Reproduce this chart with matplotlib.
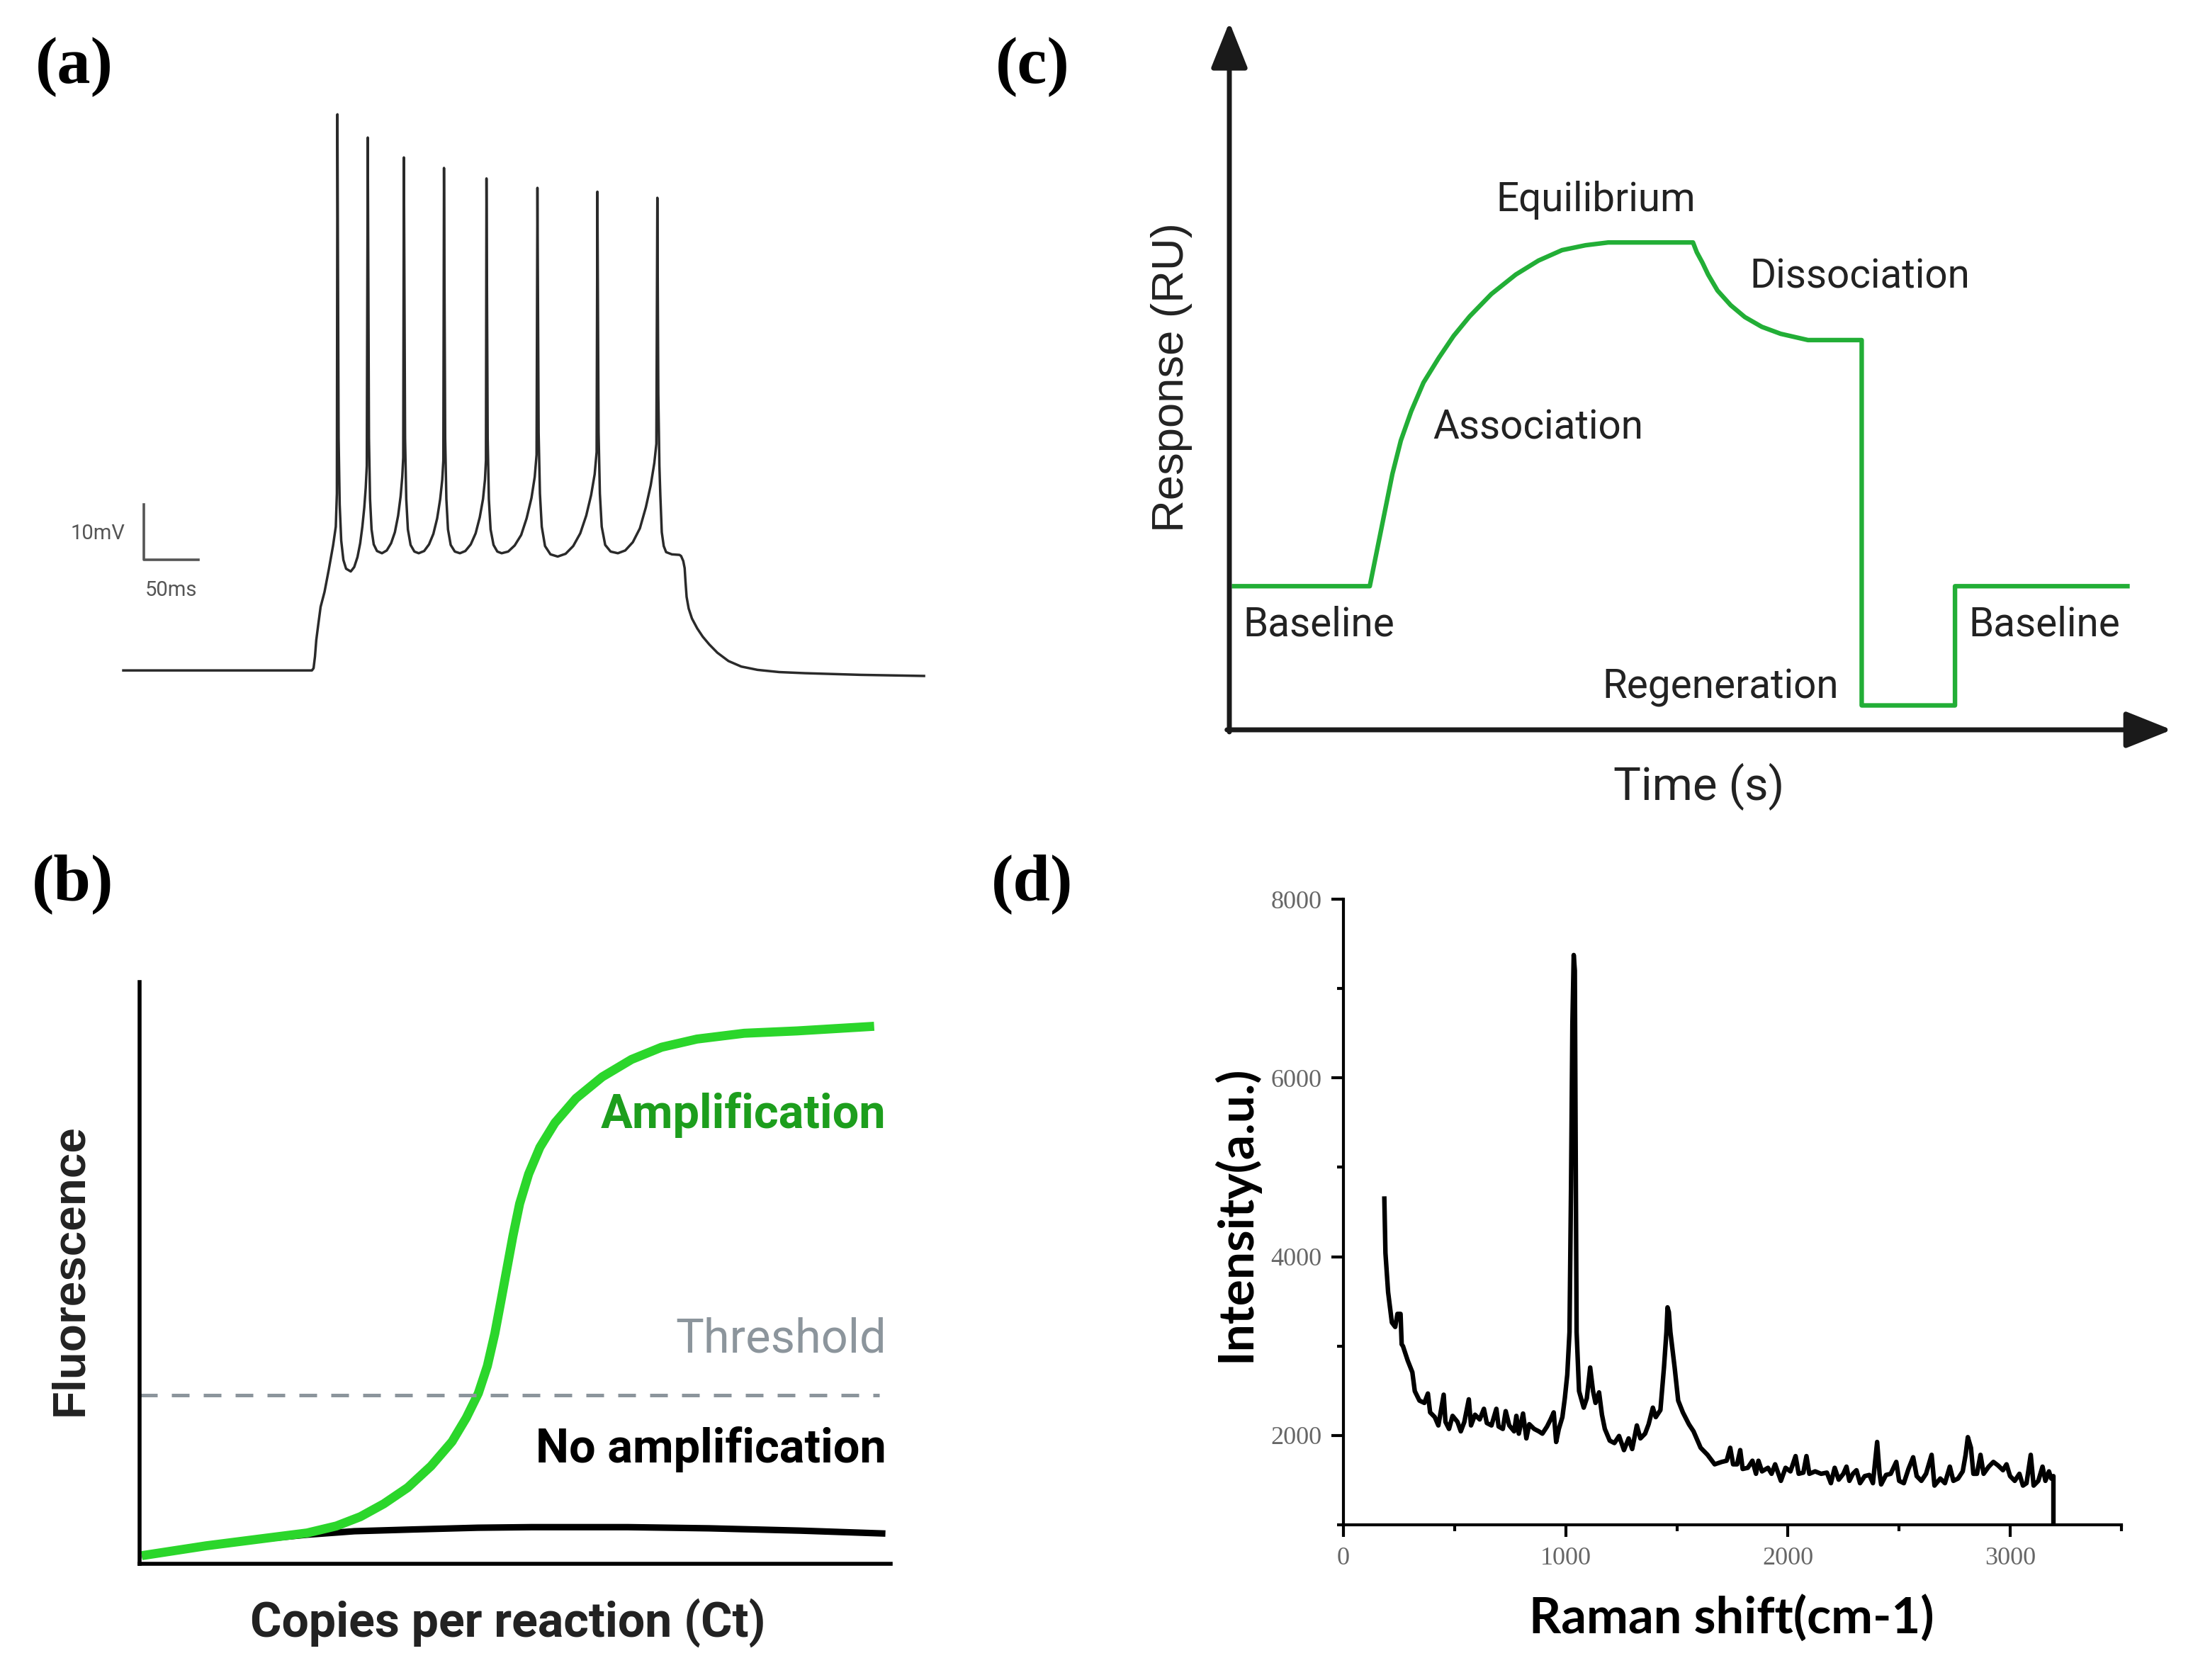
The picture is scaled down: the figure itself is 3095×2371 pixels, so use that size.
import numpy as np
import matplotlib
matplotlib.use("Agg")
import matplotlib.pyplot as plt
from matplotlib.ticker import MultipleLocator

W, H = 3095, 2371
DPI = 200

# ---------------- data ----------------
# (a) action potential train, time (ms) / membrane potential (mV)
ap_t = [0, 174, 175.5, 176.8, 178, 179.7, 182, 185.6, 189.5, 193.5, 196, 197, 197.5,
        198.6, 199.6, 201, 203, 205.5, 209.8, 213, 216, 218.5, 220.5, 222.3, 223.6, 224.6, 225.5,
        226.6, 227.6, 229, 231, 234, 238.6, 243, 247, 250.5, 253.5, 255.8, 257.3, 258.2, 258.8,
        259.9, 261, 262.5, 265, 268.5, 272.5, 277.5, 282, 286, 289.5, 292.3, 294.2, 295.2, 295.8,
        296.9, 298, 299.5, 302, 305.8, 310.5, 315.5, 320.5, 325, 328.8, 331.8, 333.6, 334.5, 335,
        336.1, 337.2, 338.8, 341.5, 345, 349, 355, 361, 367, 372, 376.5, 379.5, 381.2, 382,
        383.1, 384.3, 386, 389, 394, 400.7, 408, 415, 421.5, 427, 431.5, 434.8, 436.6, 437.3,
        438.4, 439.6, 441.3, 444.5, 449.5, 456.2, 463, 470, 476.5, 482, 486.5, 489.8, 491.7, 492.6,
        493.5, 494.5, 495.4, 496.7, 498.5, 500.7, 506, 513, 514.5, 516.5, 517.8, 518.6, 519.6,
        521.5, 524.5, 529.4, 534.5, 540.5, 548, 558.2, 570, 585, 605, 628.8, 680, 738.6]
ap_v = [-70, -70, -69.6, -67.5, -64.5, -61.9, -58.5, -55.8, -51.8, -47.4, -44, -38, 30.6,
        -28, -40, -46.5, -50, -51.6, -52.1, -51.3, -49.5, -47, -44, -40.5, -37, -33, 26.4,
        -28, -39, -44.5, -47.2, -48.4, -48.8, -48.3, -47, -45, -42, -38.5, -35, -31.5, 22.8,
        -28, -39, -44.5, -47.3, -48.5, -48.8, -48.4, -47.2, -45.3, -42.5, -39, -35.5, -32, 20.9,
        -28, -39, -44.5, -47.3, -48.5, -48.8, -48.4, -47.2, -45.2, -42.3, -39, -35.5, -32, 19.0,
        -28, -39, -44.5, -47.3, -48.5, -48.8, -48.5, -47.4, -45.5, -42.5, -38.8, -35, -31, 17.3,
        -27, -38, -44, -47.5, -49, -49.4, -48.9, -47.5, -45.2, -42, -38.3, -34.5, -30.5, 16.6,
        -27, -38, -44, -47.3, -48.5, -48.8, -48.3, -46.8, -44.3, -40.5, -36.5, -32.5, -29, 15.5,
        -20, -33, -38.5, -45, -47.5, -48.6, -49, -49.1, -49.3, -50.2, -51.5, -54, -56.7,
        -58.8, -60.6, -62.4, -63.9, -65.3, -66.8, -68.3, -69.3, -69.9, -70.3, -70.5, -70.8, -71]
scale_t = [19, 19, 69]
scale_v = [-40, -50, -50]

# (b) qPCR amplification curves (relative units)
amp_x = [0.003, 0.089, 0.168, 0.223, 0.262, 0.294, 0.325, 0.357, 0.388, 0.416, 0.435, 0.451, 0.463,
         0.473, 0.481, 0.489, 0.497, 0.506, 0.518, 0.533, 0.553, 0.581, 0.616, 0.655, 0.695, 0.742,
         0.805, 0.875, 0.978]
amp_y = [0.014, 0.031, 0.044, 0.053, 0.065, 0.081, 0.103, 0.131, 0.168, 0.210, 0.251, 0.293, 0.340,
         0.396, 0.451, 0.507, 0.563, 0.619, 0.670, 0.716, 0.758, 0.800, 0.837, 0.867, 0.888, 0.902,
         0.912, 0.916, 0.924]
noamp_x = [0.003, 0.089, 0.168, 0.223, 0.286, 0.364, 0.45, 0.522, 0.65, 0.758, 0.88, 0.993]
noamp_y = [0.014, 0.031, 0.043, 0.05, 0.056, 0.059, 0.062, 0.063, 0.063, 0.061, 0.057, 0.052]
threshold = 0.29

# (c) SPR sensorgram (relative units)
spr_t = [0.5, 14.9, 15.6, 16.3, 17.3, 18.2, 19.3, 20.6, 22.2, 23.8, 25.5, 27.8, 30.4, 32.8, 35.3, 37.8,
         40.2, 49.2, 49.6, 50.2, 50.8, 51.8, 53.2, 54.7, 56.5, 58.5, 61.4, 63, 67.1, 67.1, 77.0, 77.0, 95.3]
spr_r = [20.6, 20.6, 25.3, 30.0, 36.7, 41.5, 45.7, 49.8, 53.3, 56.5, 59.3, 62.5, 65.3, 67.3, 68.8, 69.5,
         69.9, 69.9, 68.5, 67.0, 65.3, 63.0, 60.9, 59.2, 57.8, 56.8, 55.9, 55.9, 55.9, 3.5, 3.5, 20.6, 20.6]

# (d) Raman spectrum
raman_x = [184, 189, 201, 218, 233, 243, 257, 262, 268, 289, 310, 321, 342, 364, 380, 390, 411, 427,
           451, 459, 475, 491, 513, 528, 544, 564, 574, 592, 613, 632, 645, 666, 688, 698, 717, 730,
           746, 768, 778, 789, 808, 823, 836, 858, 879, 895, 916, 932, 946, 957, 969, 985, 996, 1007,
           1017, 1024, 1030, 1036, 1041, 1044, 1049, 1060, 1081, 1095, 1110, 1123, 1134, 1150, 1163,
           1176, 1198, 1219, 1240, 1262, 1283, 1299, 1320, 1336, 1357, 1373, 1392, 1405, 1426, 1442,
           1453, 1458, 1464, 1471, 1490, 1506, 1527, 1554, 1575, 1607, 1638, 1670, 1702, 1724, 1740,
           1753, 1771, 1785, 1796, 1819, 1840, 1856, 1867, 1883, 1910, 1926, 1942, 1955, 1968, 1989,
           2011, 2034, 2048, 2069, 2083, 2096, 2122, 2149, 2175, 2193, 2210, 2228, 2249, 2263, 2276,
           2292, 2308, 2324, 2345, 2366, 2382, 2393, 2401, 2412, 2419, 2441, 2462, 2487, 2500, 2521,
           2542, 2563, 2579, 2600, 2621, 2646, 2659, 2685, 2706, 2728, 2744, 2765, 2786, 2799, 2809,
           2823, 2834, 2850, 2866, 2880, 2903, 2924, 2945, 2967, 2983, 2999, 3020, 3041, 3057, 3073,
           3092, 3105, 3126, 3145, 3158, 3174, 3184, 3194, 3194]
raman_y = [4650, 4041, 3603, 3263, 3214, 3360, 3360, 3020, 2998, 2839, 2707, 2496, 2390, 2364, 2469,
           2258, 2205, 2112, 2456, 2152, 2073, 2219, 2152, 2046, 2152, 2404, 2112, 2232, 2179, 2298,
           2139, 2112, 2298, 2100, 2073, 2272, 2112, 2046, 2219, 2020, 2245, 1967, 2126, 2073, 2046,
           2020, 2100, 2179, 2258, 1927, 2073, 2205, 2417, 2681, 3156, 4800, 6600, 7375, 7200, 5600,
           3156, 2496, 2311, 2417, 2760, 2496, 2364, 2482, 2232, 2073, 1942, 1915, 1994, 1836, 1967,
           1848, 2112, 1967, 2020, 2126, 2311, 2205, 2284, 2760, 3156, 3433, 3380, 3156, 2760, 2390,
           2258, 2126, 2046, 1862, 1783, 1677, 1704, 1717, 1862, 1677, 1677, 1836, 1625, 1638, 1717,
           1571, 1717, 1598, 1638, 1571, 1677, 1584, 1492, 1638, 1598, 1769, 1571, 1584, 1769, 1571,
           1598, 1571, 1584, 1466, 1638, 1505, 1571, 1651, 1492, 1571, 1611, 1466, 1545, 1558, 1466,
           1730, 1927, 1571, 1452, 1558, 1571, 1704, 1492, 1466, 1625, 1756, 1545, 1492, 1571, 1783,
           1439, 1518, 1466, 1651, 1492, 1518, 1598, 1783, 1981, 1862, 1571, 1571, 1783, 1571, 1651,
           1704, 1664, 1611, 1677, 1545, 1492, 1571, 1439, 1466, 1783, 1439, 1492, 1651, 1492, 1598,
           1518, 1545, 1000]


def px_axes(fig, x0, y0, x1, y1):
    # x0,y0 top-left / x1,y1 bottom-right in output pixels
    return fig.add_axes([x0 / W, 1 - y1 / H, (x1 - x0) / W, (y1 - y0) / H])


fig = plt.figure(figsize=(W / DPI, H / DPI), dpi=DPI)

# ---------------- (a) ----------------
ax = px_axes(fig, 150, 120, 1320, 1000)
ax.plot(ap_t, ap_v, color="#2a2a2a", lw=1.25, solid_joinstyle="round")
ax.plot(scale_t, scale_v, color="#555555", lw=1.3)
ax.text(-23.5, -45.3, "10mV", fontsize=10.5, color="#555555", family="Roboto", ha="center", va="center")
ax.text(43.8, -55.5, "50ms", fontsize=10.5, color="#555555", family="Roboto", ha="center", va="center")
ax.set_xlim(-15.7, 749.0)
ax.set_ylim(-76.9, 35.9)
ax.axis("off")

# ---------------- (b) ----------------
ax = px_axes(fig, 197, 1386, 1257, 2207)
ax.plot(noamp_x, noamp_y, color="black", lw=3.3, solid_capstyle="butt", solid_joinstyle="round")
ax.plot(amp_x, amp_y, color="#2bd62b", lw=4.6, solid_capstyle="butt", solid_joinstyle="round")
ax.plot([0.0, 0.985], [threshold, threshold], color="#8c959c", lw=1.8, ls=(0, (5, 4)))
ax.set_xlim(0, 1)
ax.set_ylim(0, 1)
for s in ["top", "right"]:
    ax.spines[s].set_visible(False)
for s in ["left", "bottom"]:
    ax.spines[s].set_linewidth(2)
ax.set_xticks([])
ax.set_yticks([])
ax.text(0.994, 0.772, "Amplification", color="#1d9e1d", fontsize=24, fontweight="bold",
        family="Roboto", ha="right", va="center")
ax.text(0.994, 0.385, "Threshold", color="#8c959c", fontsize=24, family="Roboto", ha="right", va="center")
ax.text(0.994, 0.197, "No amplification", color="black", fontsize=24, fontweight="bold",
        family="Roboto", ha="right", va="center")
ax.text(-0.092, 0.505, "Fluorescence", rotation=90, fontsize=23, fontweight="bold",
        family="Liberation Sans", color="#222222", ha="center", va="center")
ax.text(0.49, -0.101, "Copies per reaction (Ct)", fontsize=24.5, fontweight="bold",
        family="Roboto", color="#222222", ha="center", va="center")

# ---------------- (c) ----------------
ax = px_axes(fig, 1735, 46, 3065, 1030)
ax.plot(spr_t, spr_r, color="#22ae36", lw=2.3, solid_joinstyle="round")
ax.set_xlim(0, 100)
ax.set_ylim(0, 100)
ax.axis("off")
arrow = dict(arrowstyle="-|>,head_length=0.8,head_width=0.32", lw=2.5, color="#1a1a1a",
             mutation_scale=25, shrinkA=0, shrinkB=0)
ax.annotate("", xy=(100, 0), xytext=(-0.25, 0), arrowprops=arrow, annotation_clip=False)
ax.annotate("", xy=(0, 101.5), xytext=(0, -0.3), arrowprops=arrow, annotation_clip=False)
lab = dict(fontsize=20.4, family="Roboto", color="#222222", ha="center", va="center")
ax.text(38.9, 76.0, "Equilibrium", **lab)
ax.text(66.9, 64.9, "Dissociation", **lab)
ax.text(32.8, 43.3, "Association", **lab)
ax.text(9.5, 15.0, "Baseline", **lab)
ax.text(52.1, 6.0, "Regeneration", **lab)
ax.text(86.5, 15.0, "Baseline", **lab)
ax.text(49.8, -8.2, "Time (s)", fontsize=23.5, family="Roboto", color="#222222", ha="center", va="center")
ax.text(-6.1, 50.5, "Response (RU)", rotation=90, fontsize=22.8, family="Liberation Sans",
        color="#222222", ha="center", va="center")

# ---------------- (d) ----------------
ax = px_axes(fig, 1896, 1269, 2994, 2152)
ax.plot(raman_x, raman_y, color="black", lw=2.3, solid_joinstyle="round")
ax.set_xlim(0, 3500)
ax.set_ylim(1000, 8000)
for s in ["top", "right"]:
    ax.spines[s].set_visible(False)
for s in ["left", "bottom"]:
    ax.spines[s].set_linewidth(1.5)
ax.xaxis.set_major_locator(MultipleLocator(1000))
ax.xaxis.set_minor_locator(MultipleLocator(500))
ax.set_yticks([2000, 4000, 6000, 8000])
ax.yaxis.set_minor_locator(MultipleLocator(1000))
ax.tick_params(which="major", direction="out", length=6, width=1.5, pad=5,
               labelsize=13, labelcolor="#666666")
ax.tick_params(which="minor", direction="out", length=3.3, width=1.5)
for t in ax.get_xticklabels() + ax.get_yticklabels():
    t.set_family("Liberation Serif")
ax.text(-0.139, 0.497, "Intensity(a.u.)", rotation=90, fontsize=25, fontweight="bold",
        family="Lato", transform=ax.transAxes, ha="center", va="center")
ax.text(0.499, -0.149, "Raman shift(cm-1)", fontsize=25.4, fontweight="bold",
        family="Lato", transform=ax.transAxes, ha="center", va="center")

# panel letters
for lbl, x, y in [("(a)", 105, 95), ("(b)", 103, 1248), ("(c)", 1457, 95), ("(d)", 1457, 1248)]:
    fig.text(x / W, 1 - y / H, lbl, fontsize=34, fontweight="bold", family="Liberation Serif",
             ha="center", va="center")

fig.savefig("out.png", dpi=DPI)
